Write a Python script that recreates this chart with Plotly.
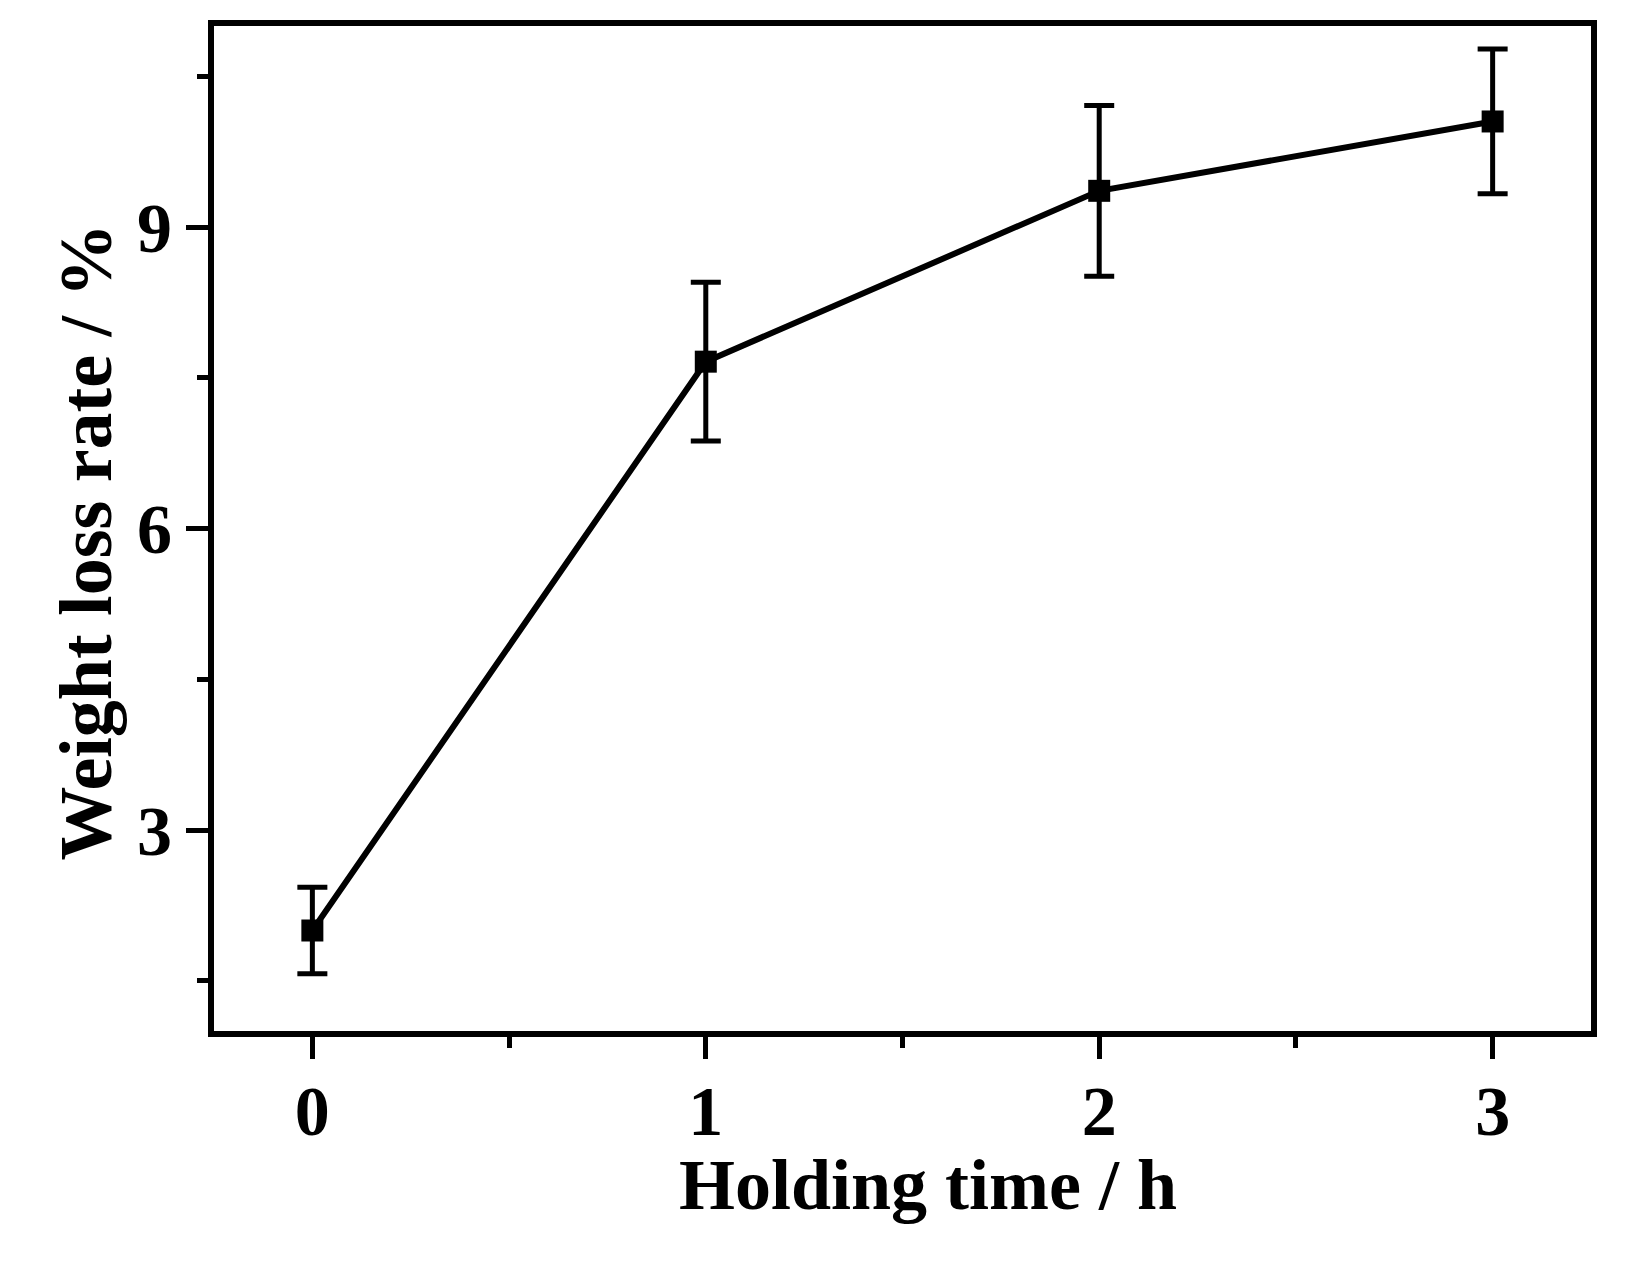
"""Weight loss rate vs holding time."""

import plotly.graph_objects as go

hours = [0, 1, 2, 3]
weight_loss = [2.0, 7.66, 9.36, 10.05]
weight_loss_err = [0.43, 0.79, 0.85, 0.72]

FONT = "Liberation Serif"

fig = go.Figure(go.Scatter(
    x=hours, y=weight_loss,
    mode="lines+markers",
    line=dict(color="black", width=6),
    marker=dict(symbol="square", size=22, color="black"),
    error_y=dict(type="data", array=weight_loss_err, visible=True,
                 color="black", thickness=5, width=15),
    showlegend=False,
))

_AXIS = dict(
    showline=True, linecolor="black", linewidth=6, mirror=True,
    showgrid=False, zeroline=False,
    ticks="outside", ticklen=22, tickwidth=5, tickcolor="black",
    tickfont=dict(family=FONT, size=70, color="black", weight="bold"),
)
_MINOR = dict(ticks="outside", ticklen=11, tickwidth=5, tickcolor="black")

fig.update_xaxes(range=[-0.25, 3.25], tickvals=hours, ticklabelstandoff=-8,
                 minor=dict(dtick=0.5, tick0=0, **_MINOR), **_AXIS)
fig.update_yaxes(range=[1, 11], tickvals=[3, 6, 9],
                 minor=dict(dtick=1.5, tick0=0, **_MINOR), **_AXIS)

fig.add_annotation(
    text="<b>Holding time / h</b>", xref="paper", yref="paper",
    x=0.5185, y=-0.153, xanchor="center", yanchor="middle", showarrow=False,
    font=dict(family=FONT, size=72, color="black"),
)
fig.add_annotation(
    text="<b>Weight loss rate / %</b>", xref="paper", yref="paper",
    x=-0.093, y=0.487, xanchor="center", yanchor="middle", showarrow=False,
    textangle=-90,
    font=dict(family=FONT, size=74, color="black"),
)

fig.update_layout(
    width=1621, height=1261,
    paper_bgcolor="white", plot_bgcolor="white",
    margin=dict(l=206, r=38, t=15, b=238),
)

fig.write_html("out.html")
